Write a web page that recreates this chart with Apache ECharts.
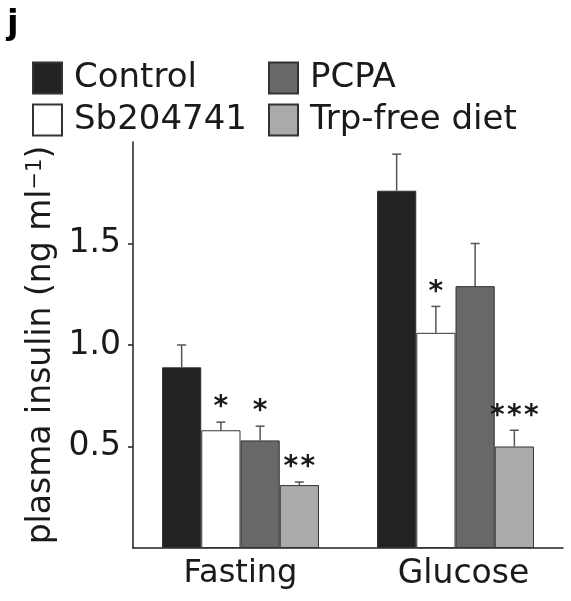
<!DOCTYPE html>
<html>
<head>
<meta charset="utf-8">
<script src="https://cdn.jsdelivr.net/npm/echarts@6/dist/echarts.min.js"></script>
<style>html,body{margin:0;padding:0;background:#fff}#c{width:571px;height:601px}</style>
</head>
<body>
<div id="c"></div>
<script>
const categories = ['Fasting', 'Glucose'];
const seriesNames = ['Control', 'Sb204741', 'PCPA', 'Trp-free diet'];
const controlVals = [0.89, 1.76];
const sbVals = [0.58, 1.06];
const pcpaVals = [0.53, 1.29];
const trpVals = [0.31, 0.50];
const controlErr = [0.11, 0.18];
const sbErr = [0.04, 0.13];
const pcpaErr = [0.07, 0.21];
const trpErr = [0.015, 0.08];
const controlStars = ['', ''];
const sbStars = ['*', '*'];
const pcpaStars = ['*', ''];
const trpStars = ['**', '***'];
const yTicks = [0.5, 1.0, 1.5];

const vals = [controlVals, sbVals, pcpaVals, trpVals];
const errs = [controlErr, sbErr, pcpaErr, trpErr];
const stars = [controlStars, sbStars, pcpaStars, trpStars];
const colors = ['#222222', '#ffffff', '#686868', '#aaaaaa'];
const FONT = 'DejaVu Sans';
const gapRatio = 0.27;
const TXT = '#1a1a1a';

const chart = echarts.init(document.getElementById('c'), null, {renderer: 'canvas'});

const series = [];
seriesNames.forEach((n, i) => {
  series.push({
    type: 'bar', name: n, data: vals[i],
    barGap: 0, barCategoryGap: (gapRatio * 100) + '%',
    itemStyle: {color: colors[i], borderColor: '#333', borderWidth: 1},
    emphasis: {disabled: true}, z: 2
  });
});
seriesNames.forEach((n, i) => {
  series.push({
    type: 'custom', name: n + ' err', z: 5, silent: true,
    data: categories.map((c, j) => [j, vals[i][j], errs[i][j]]),
    encode: {x: 0, y: 1},
    renderItem: function (params, api) {
      const j = api.value(0);
      const v = api.value(1), e = api.value(2);
      const band = api.size([1, 0])[0];
      const groupW = band * (1 - gapRatio);
      const bw = groupW / 4;
      const c = api.coord([j, v]);
      const x = c[0] - groupW / 2 + bw * (i + 0.5);
      const yv = c[1];
      const yt = api.coord([j, v + e])[1];
      const children = [
        {type: 'line', shape: {x1: x, y1: yv, x2: x, y2: yt}, style: {stroke: '#555', lineWidth: 1.5}},
        {type: 'line', shape: {x1: x - 4.5, y1: yt, x2: x + 4.5, y2: yt}, style: {stroke: '#555', lineWidth: 1.5}}
      ];
      const s = stars[i][params.dataIndex];
      if (s) {
        const n = s.length, sp = 17;
        for (let k = 0; k < n; k++) {
          children.push({type: 'text', style: {
            text: '*', x: x + (k - (n - 1) / 2) * sp, y: yt - 14,
            font: 'bold 28px "' + FONT + '"', fill: TXT, align: 'center', verticalAlign: 'middle'
          }});
        }
      }
      return {type: 'group', children: children};
    }
  });
});

const legendText = {fontFamily: FONT, fontSize: 34, color: TXT, lineHeight: 34, padding: [0, 0, 0, 7]};

chart.setOption({
  animation: false,
  backgroundColor: '#fff',
  textStyle: {fontFamily: FONT, color: TXT},
  grid: {left: 133, right: 8, top: 142, bottom: 53, containLabel: false},
  legend: [
    {data: ['Control', 'Sb204741'], orient: 'vertical', left: 27, top: 56, itemWidth: 29, itemHeight: 31,
     itemGap: 8, icon: 'rect', selectedMode: false, textStyle: legendText},
    {data: ['PCPA', 'Trp-free diet'], orient: 'vertical', left: 263, top: 56, itemWidth: 29, itemHeight: 31,
     itemGap: 8, icon: 'rect', selectedMode: false, textStyle: legendText}
  ],
  graphic: [
    {type: 'text', left: 7, top: 8, style: {text: 'j', font: 'bold 34px "' + FONT + '"', fill: '#000'}}
  ],
  xAxis: {
    type: 'category', data: categories,
    axisLine: {lineStyle: {color: '#222', width: 1.5}},
    axisTick: {show: false},
    axisLabel: {fontFamily: FONT, fontSize: 32, color: TXT, margin: 10, interval: 0, hideOverlap: false,
      formatter: v => v === 'Glucose' ? '{g|' + v + '}' : '{f|' + v + '}',
      rich: {
        f: {fontFamily: FONT, fontSize: 32, color: TXT},
        g: {fontFamily: FONT, fontSize: 33, color: TXT, padding: [0, 0, 0, 16]}
      }
    }
  },
  yAxis: {
    type: 'value', min: 0, max: 2, interval: 0.5,
    splitLine: {show: false},
    axisLine: {show: true, lineStyle: {color: '#222', width: 1.5}},
    axisTick: {show: true, length: 5, customValues: yTicks, lineStyle: {color: '#222', width: 1.5}},
    axisLabel: {customValues: yTicks, fontFamily: FONT, fontSize: 33, color: TXT, margin: 12,
      formatter: v => v.toFixed(1)},
    name: '{m|plasma insulin (ng ml}{s|−1}{m|)}',
    nameLocation: 'middle', nameRotate: 90, nameGap: 74,
    nameTextStyle: {
      fontFamily: FONT, fontSize: 33, color: TXT,
      rich: {
        m: {fontFamily: FONT, fontSize: 33, color: TXT},
        s: {fontFamily: FONT, fontSize: 21, color: TXT, verticalAlign: 'top'}
      }
    }
  },
  series: series
});
</script>
</body>
</html>
